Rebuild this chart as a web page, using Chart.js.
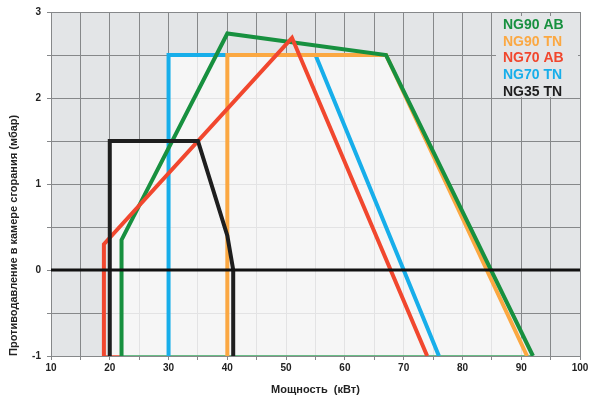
<!DOCTYPE html>
<html>
<head>
<meta charset="utf-8">
<script src="https://cdn.jsdelivr.net/npm/chart.js@4"></script>
<style>
  html, body { margin: 0; padding: 0; background: #fff; }
  #wrap { width: 596px; height: 397px; }
</style>
</head>
<body>
<div id="wrap"><canvas id="chart" width="596" height="397"></canvas></div>
<script>
// Series data (kW / mbar)
const seriesNames = ['NG90 AB', 'NG90 TN', 'NG70 AB', 'NG70 TN', 'NG35 TN'];
const seriesColors = ['#17903f', '#fba842', '#f1472e', '#17aeea', '#1e1e1e'];

const ng90abX = [22, 22, 40, 67, 92];
const ng90abY = [-1, 0.35, 2.75, 2.5, -1];

const ng90tnX = [40, 40, 67, 91];
const ng90tnY = [-1, 2.5, 2.5, -1];

const ng70abX = [19, 19, 51, 74];
const ng70abY = [-1, 0.3, 2.7, -1];

const ng70tnX = [30, 30, 55, 76];
const ng70tnY = [-1, 2.5, 2.5, -1];

const ng35tnX = [20, 20, 35, 40, 41, 41];
const ng35tnY = [-1, 1.5, 1.5, 0.4, 0, -1];

// light working area behind the curves
const envelopeX = [20, 20, 30, 30, 67, 91.5];
const envelopeY = [-1, 1.5, 1.5, 2.5, 2.5, -1];

// thin base line at -1 mbar
const baseRedX = [19, 22];
const baseGreenX = [22, 92];
const baseY = [-1, -1];

// zero reference line
const zeroX = [10, 100];
const zeroY = [0, 0];

const xTicks = [10, 20, 30, 40, 50, 60, 70, 80, 90, 100];
const yTicks = [-1, 0, 1, 2, 3];

const pts = (xs, ys) => xs.map((x, i) => ({x: x, y: ys[i]}));

function curve(data, color, width) {
    return {
        data: data,
        showLine: true,
        borderColor: color,
        borderWidth: width,
        pointRadius: 0,
        borderJoinStyle: 'miter',
        borderCapStyle: 'butt',
        fill: false,
        tension: 0
    };
}

const envelope = curve(pts(envelopeX, envelopeY), 'rgba(0,0,0,0)', 0);
envelope.fill = 'start';
envelope.backgroundColor = 'rgba(250,250,250,0.8)';

// first dataset is drawn on top
const datasets = [
    curve(pts(zeroX, zeroY), '#111', 3),
    curve(pts(ng35tnX, ng35tnY), seriesColors[4], 4),
    curve(pts(ng70abX, ng70abY), seriesColors[2], 4),
    curve(pts(ng90abX, ng90abY), seriesColors[0], 4),
    curve(pts(ng90tnX, ng90tnY), seriesColors[1], 4),
    curve(pts(ng70tnX, ng70tnY), seriesColors[3], 4),
    curve(pts(baseRedX, baseY), seriesColors[2], 1.5),
    curve(pts(baseGreenX, baseY), '#3aa860', 1.5),
    envelope
];

// Plot background
const plotBg = {
    id: 'plotBg',
    beforeDraw(chart) {
        const {ctx, chartArea: a} = chart;
        ctx.save();
        ctx.fillStyle = '#e3e5e7';
        ctx.fillRect(a.left, a.top, a.right - a.left, a.bottom - a.top);
        ctx.restore();
    }
};

// Text legend in the top right corner
const textLegend = {
    id: 'textLegend',
    afterDatasetsDraw(chart) {
        const {ctx, chartArea: a} = chart;
        ctx.save();
        ctx.fillStyle = '#e3e5e7';
        ctx.fillRect(a.right - 84, a.top + 4, 82, 81);
        ctx.font = 'bold 14px "Liberation Sans", Arial, sans-serif';
        ctx.textBaseline = 'middle';
        ctx.textAlign = 'left';
        seriesNames.forEach((name, i) => {
            ctx.fillStyle = seriesColors[i];
            ctx.fillText(name, a.right - 77, a.top + 13 + i * 16.7);
        });
        ctx.restore();
    }
};

const tickFont = {family: '"Liberation Sans", Arial, sans-serif', size: 10, weight: 'bold'};
const titleFont = {family: '"Liberation Sans", Arial, sans-serif', size: 11, weight: 'bold'};

new Chart(document.getElementById('chart'), {
    type: 'scatter',
    data: {datasets: datasets},
    options: {
        responsive: false,
        animation: false,
        layout: {padding: {left: 0, top: 8, right: 16, bottom: 0}},
        plugins: {
            legend: {display: false},
            tooltip: {enabled: false}
        },
        scales: {
            x: {
                type: 'linear',
                min: 10,
                max: 100,
                afterFit: s => { s.height = 41; },
                ticks: {
                    stepSize: 5,
                    color: '#222',
                    font: tickFont,
                    maxRotation: 0,
                    padding: 2,
                    callback: v => xTicks.includes(v) ? String(v) : ''
                },
                grid: {color: '#86888a', lineWidth: 1, tickLength: 4},
                border: {color: '#86888a'},
                title: {
                    display: true,
                    text: 'Мощность  (кВт)',
                    color: '#222',
                    font: titleFont,
                    padding: {top: 4, bottom: 0}
                }
            },
            y: {
                type: 'linear',
                min: -1,
                max: 3,
                afterFit: s => { s.width = 51; },
                ticks: {
                    stepSize: 0.5,
                    color: '#222',
                    font: tickFont,
                    padding: 6,
                    callback: v => yTicks.includes(v) ? String(v) : ''
                },
                grid: {color: '#86888a', lineWidth: 1, tickLength: 4},
                border: {color: '#86888a'},
                title: {
                    display: true,
                    text: 'Противодавление в камере сгорания (мбар)',
                    color: '#222',
                    align: 'start',
                    font: titleFont,
                    padding: {top: 7, bottom: 0}
                }
            }
        }
    },
    plugins: [plotBg, textLegend]
});
</script>
</body>
</html>
